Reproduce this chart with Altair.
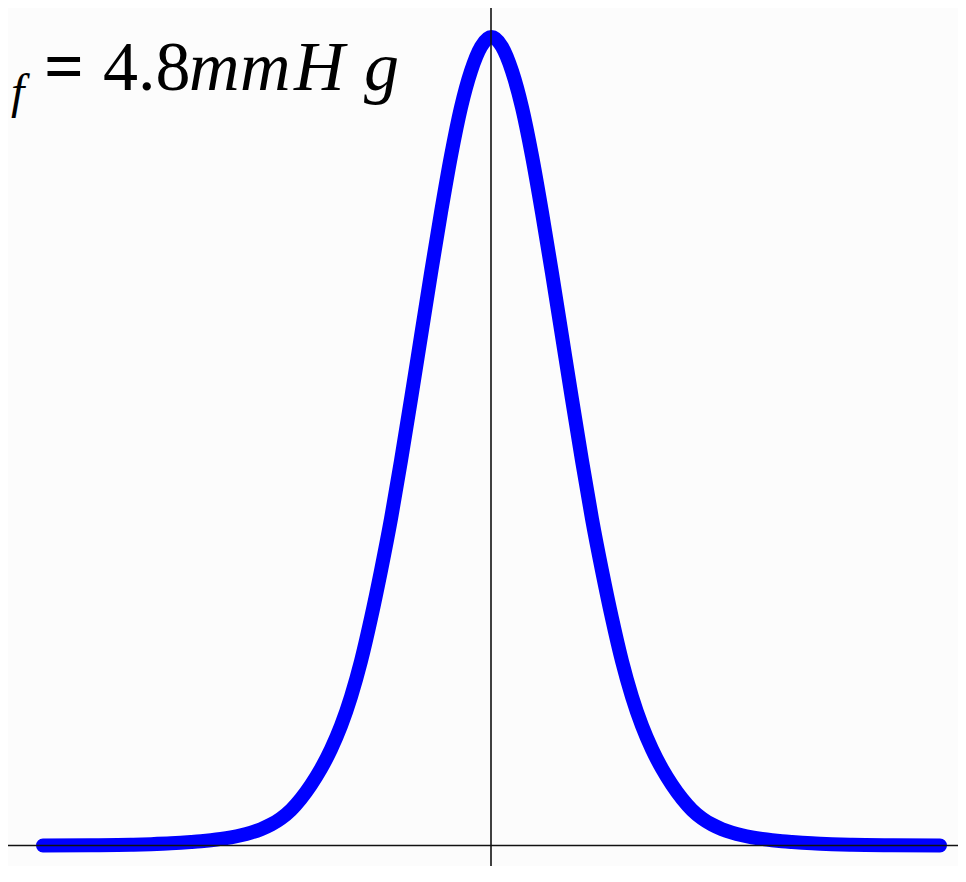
import altair as alt
import pandas as pd

# Curve (x in arbitrary units, p normalised to peak = 1)
x_vals = [-4.48, -4.00, -3.60, -3.40, -3.20, -3.00, -2.90, -2.80, -2.70, -2.60,
          -2.50, -2.40, -2.30, -2.20, -2.10, -2.00, -1.90, -1.80, -1.70, -1.60,
          -1.50, -1.40, -1.30, -1.20, -1.10, -1.00, -0.90, -0.80, -0.70, -0.60,
          -0.50, -0.40, -0.30, -0.20, -0.10, 0.005,
          0.11, 0.21, 0.31, 0.41, 0.51, 0.61, 0.71, 0.81, 0.91, 1.01,
          1.11, 1.21, 1.31, 1.41, 1.51, 1.61, 1.71, 1.81, 1.91, 2.01,
          2.11, 2.21, 2.31, 2.41, 2.51, 2.61, 2.71, 2.81, 2.91, 3.01,
          3.21, 3.41, 3.61, 4.01, 4.49]
p_vals = [0.0, 0.0003, 0.0009, 0.0016, 0.0026, 0.0042, 0.0052, 0.0065, 0.0081, 0.0101,
          0.0126, 0.0159, 0.0202, 0.0259, 0.0336, 0.044, 0.058, 0.075, 0.095, 0.119,
          0.148, 0.184, 0.228, 0.281, 0.340, 0.404, 0.476, 0.552, 0.630, 0.708,
          0.783, 0.853, 0.913, 0.958, 0.988, 1.0,
          0.988, 0.958, 0.913, 0.853, 0.783, 0.708, 0.630, 0.552, 0.476, 0.404,
          0.340, 0.281, 0.228, 0.184, 0.148, 0.119, 0.095, 0.075, 0.058, 0.044,
          0.0336, 0.0259, 0.0202, 0.0159, 0.0126, 0.0101, 0.0081, 0.0065, 0.0052, 0.0042,
          0.0026, 0.0016, 0.0009, 0.0003, 0.0]

curve = pd.DataFrame({"x": x_vals, "p": p_vals})
zero = pd.DataFrame({"zero": [0.0]})
one = alt.Data(values=[{}])

xs = alt.Scale(domain=[-4.83, 4.67], zero=False, nice=False)
ys = alt.Scale(domain=[-0.0254, 1.0359], zero=False, nice=False)

line = alt.Chart(curve).mark_line(
    color="#0000ff", strokeWidth=14, strokeCap="round", strokeJoin="round",
    interpolate="monotone"
).encode(
    x=alt.X("x:Q", scale=xs, axis=None),
    y=alt.Y("p:Q", scale=ys, axis=None),
)

hrule = alt.Chart(zero).mark_rule(color="#111111", strokeWidth=1.6).encode(
    y=alt.Y("zero:Q", scale=ys, axis=None)
)
vrule = alt.Chart(zero).mark_rule(color="#111111", strokeWidth=1.6).encode(
    x=alt.X("zero:Q", scale=xs, axis=None)
)

FONT = "Liberation Serif"


def label(txt, px, py, size, style="normal", align="left", weight="normal"):
    return alt.Chart(one).mark_text(
        text=txt, font=FONT, fontSize=size, fontStyle=style, fontWeight=weight,
        align=align, baseline="alphabetic", color="black"
    ).encode(x=alt.value(px), y=alt.value(py))


texts = [
    label("P", -5, 82, 70, style="italic", align="right"),
    label("f", 3, 100, 48, style="italic"),
    label("=", 56, 82, 70, align="center", weight="bold"),
    label("4.8", 95, 82, 70),
    label("m", 181, 82, 70, style="italic"),
    label("m", 232, 82, 70, style="italic"),
    label("H", 286, 82, 70, style="italic"),
    label("g", 356, 82, 70, style="italic"),
]

chart = alt.layer(line, hrule, vrule, *texts).properties(
    width=950, height=858,
    autosize=alt.AutoSizeParams(type="none"),
    padding=0,
    background="#fcfcfc",
).configure_view(stroke=None, fill="#fcfcfc")

chart.save("out.html", embed_options={"renderer": "svg", "actions": False})
